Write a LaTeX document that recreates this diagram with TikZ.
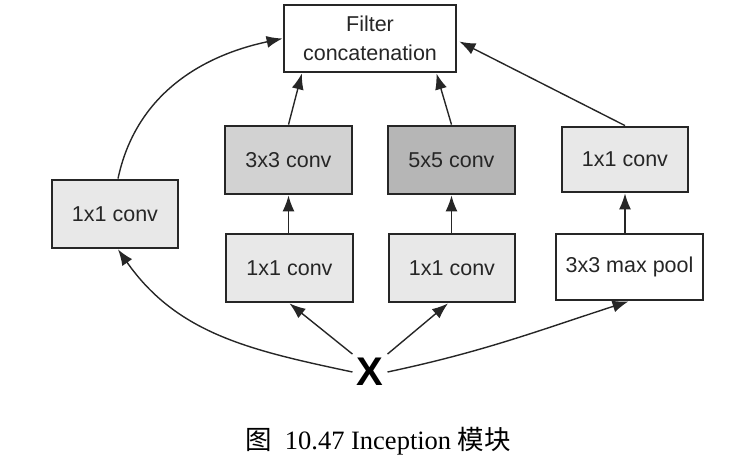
\documentclass[tikz,border=0pt]{standalone}
\usepackage{fontspec}
\setmainfont{Liberation Serif}
\newfontfamily\boxfont{Liberation Sans}
\newfontfamily\cjk{Noto Sans CJK SC}
\usetikzlibrary{arrows.meta,calc}
\definecolor{lightg}{HTML}{E8E8E8}
\definecolor{midg}{HTML}{D2D2D2}
\definecolor{darkg}{HTML}{B6B6B6}
\tikzset{
  blk/.style={draw=black!85, line width=2.8pt, inner sep=0pt, align=center,
    font=\boxfont\fontsize{21.5}{29}\selectfont, text=black!85},
  conn/.style={line width=1.4pt, draw=black!85, -{Latex[length=16pt,width=12pt]}},
}
\begin{document}
\begin{tikzpicture}[x=1pt,y=-1pt]
\useasboundingbox (0,0) rectangle (756,466);
\node[blk, fill=white, minimum width=172pt, minimum height=67pt] (filt) at (370,38.5) {Filter\\concatenation};
\node[blk, fill=lightg, minimum width=126pt, minimum height=68pt] (left) at (115,214) {1x1 conv};
\node[blk, fill=midg, minimum width=127pt, minimum height=68pt] (c33) at (288.5,160) {3x3 conv};
\node[blk, fill=darkg, minimum width=127pt, minimum height=68pt] (c55) at (451.5,160) {5x5 conv};
\node[blk, fill=lightg, minimum width=127pt, minimum height=68pt] (r2) at (289.5,268) {1x1 conv};
\node[blk, fill=lightg, minimum width=126pt, minimum height=68pt] (r3) at (452,268) {1x1 conv};
\node[blk, fill=lightg, minimum width=126pt, minimum height=65pt] (right) at (625,159.5) {1x1 conv};
\node[blk, fill=white, minimum width=147pt, minimum height=66pt] (pool) at (629.5,267) {3x3 max pool};
\node[inner sep=4pt, font=\boxfont\bfseries\fontsize{40}{42}\selectfont] (x) at (370,372) {X};
\node[font=\fontsize{26.5}{30}\selectfont] (cap) at (378,441) {{\cjk 图}\enspace 10.47 Inception {\cjk 模块}};

\draw[conn] ($(left.north)+(3,0)$) to[out=78,in=192] (filt.west);
\draw[conn] (x.west) to[out=168,in=-55] ($(left.south)+(3,0)$);
\draw[conn] (x.north west) -- (r2.south);
\draw[conn] (x.north east) -- ($(r3.south)+(-4,0)$);
\draw[conn] (x.east) to[out=12,in=198] ($(pool.south)+(-1,0)$);
\draw[conn] (c33.south|-r2.north) -- (c33.south);
\draw[conn] (c55.south|-r3.north) -- (c55.south);
\draw[conn] (right.south|-pool.north) -- (right.south);
\draw[conn] (c33.north) -- ($(filt.south west)!0.11!(filt.south east)$);
\draw[conn] (c55.north) -- ($(filt.south west)!0.88!(filt.south east)$);
\draw[conn] (right.north) -- ($(filt.east)+(2,3)$);
\end{tikzpicture}
\end{document}
